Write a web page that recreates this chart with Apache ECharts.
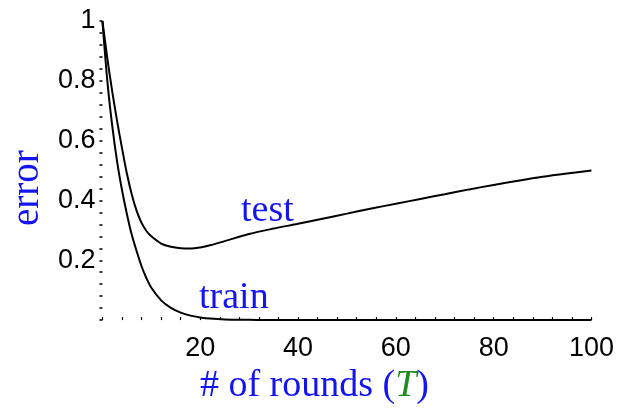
<!DOCTYPE html>
<html>
<head>
<meta charset="utf-8">
<script src="https://cdn.jsdelivr.net/npm/echarts@6/dist/echarts.min.js"></script>
<style>
html,body{margin:0;padding:0;background:#fff;}
#chart{width:617px;height:410px;}
</style>
</head>
<body>
<div id="chart"></div>
<script>
var rounds   = [0, 1, 2, 3, 4, 5, 6, 7, 8, 9, 10, 12, 14, 16, 18, 20, 22, 25, 30, 35, 40, 45, 50, 55, 60, 65, 70, 75, 80, 85, 90, 95, 100];
var testErr  = [1.0, 0.875, 0.765, 0.665, 0.575, 0.49, 0.42, 0.365, 0.325, 0.298, 0.28, 0.256, 0.245, 0.24, 0.239, 0.243, 0.25, 0.264, 0.288, 0.306, 0.322, 0.339, 0.356, 0.373, 0.389, 0.405, 0.421, 0.437, 0.452, 0.466, 0.479, 0.49, 0.5];
var trainErr = [1.0, 0.8, 0.65, 0.53, 0.435, 0.355, 0.285, 0.23, 0.18, 0.14, 0.108, 0.066, 0.041, 0.025, 0.015, 0.009, 0.005, 0.002, 0.001, 0, 0, 0, 0, 0, 0, 0, 0, 0, 0, 0, 0, 0, 0];
var xTicks = [20, 40, 60, 80, 100];
var yTicks = [0.2, 0.4, 0.6, 0.8, 1];
var seriesNames = ['test', 'train'];

function pairs(xs, ys) { return xs.map(function (x, i) { return [x, ys[i]]; }); }

var chart = echarts.init(document.getElementById('chart'));
var blue = '#1414f0';
var serif = '"Liberation Serif", "DejaVu Serif", serif';
var sans = '"Liberation Sans", Arial, sans-serif';

chart.setOption({
  animation: false,
  backgroundColor: '#ffffff',
  grid: { left: 97, right: 23, top: 21, bottom: 85 },
  xAxis: {
    type: 'value', min: 0, max: 100, interval: 20,
    name: '# of rounds ({t|T})',
    nameLocation: 'middle', nameGap: 24,
    nameTextStyle: {
      fontFamily: serif, fontSize: 38, color: blue, padding: [0, 65, 0, 0],
      rich: { t: { fontFamily: serif, fontSize: 38, fontStyle: 'italic', color: '#1e8c1e' } }
    },
    axisLine: { show: false },
    axisTick: { show: true, inside: true, length: 3, lineStyle: { color: '#000', width: 1.2 } },
    minorTick: { show: true, splitNumber: 5, length: 3, lineStyle: { color: '#000', width: 1.2 } },
    splitLine: { show: false },
    axisLabel: {
      fontFamily: sans, fontSize: 27, color: '#000', margin: 15,
      formatter: function (v) { return xTicks.indexOf(v) >= 0 ? String(v) : ''; }
    }
  },
  yAxis: {
    type: 'value', min: 0, max: 1, interval: 0.2,
    name: 'error',
    nameLocation: 'middle', nameGap: 52,
    nameTextStyle: { fontFamily: serif, fontSize: 39, color: blue, padding: [0, 35, 0, 0] },
    axisLine: { show: false },
    axisTick: { show: true, length: 3, lineStyle: { color: '#000', width: 1.5 } },
    minorTick: { show: true, splitNumber: 5, length: 3, lineStyle: { color: '#000', width: 1.5 } },
    splitLine: { show: false },
    axisLabel: {
      fontFamily: sans, fontSize: 27, color: '#000', margin: 7,
      formatter: function (v) {
        var r = Math.round(v * 10) / 10;
        return yTicks.indexOf(r) >= 0 ? String(r) : '';
      }
    }
  },
  series: [
    {
      name: seriesNames[0], type: 'line', data: pairs(rounds, testErr), smooth: 0.3,
      showSymbol: false, lineStyle: { color: '#000', width: 2 }, z: 3
    },
    {
      name: seriesNames[1], type: 'line', data: pairs(rounds, trainErr), smooth: 0.3,
      showSymbol: false, lineStyle: { color: '#000', width: 2 }, z: 3
    }
  ],
  graphic: [
    { type: 'text', left: 241, top: 192, style: { text: seriesNames[0], font: '38px ' + serif, fill: blue } },
    { type: 'text', left: 199, top: 279, style: { text: seriesNames[1], font: '38px ' + serif, fill: blue } }
  ]
});
</script>
</body>
</html>
